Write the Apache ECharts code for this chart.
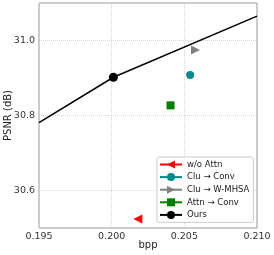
<!DOCTYPE html>
<html><head><meta charset="utf-8">
<script src="https://cdn.jsdelivr.net/npm/echarts@6/dist/echarts.min.js"></script>
<style>html,body{margin:0;padding:0;background:#fff}#c{width:274px;height:255px}</style>
</head><body><div id="c"></div>
<script>
const seriesNames = ['w/o Attn', 'Clu \u2192 Conv', 'Clu \u2192 W-MHSA', 'Attn \u2192 Conv', 'Ours'];
const woAttn = [[0.2018, 30.524]];
const cluConv = [[0.2054, 30.908]];
const cluWMHSA = [[0.20577, 30.975]];
const attnConv = [[0.20405, 30.827]];
const oursCurve = [[0.195, 30.781], [0.20012, 30.902], [0.210, 31.065]];
const oursMarkIndex = 1;
const xTicks = [0.195, 0.200, 0.205, 0.210];
const yTicks = [30.6, 30.8, 31.0];

const font = 'DejaVu Sans';
const chart = echarts.init(document.getElementById('c'), null, {renderer: 'canvas'});
chart.setOption({
  animation: false,
  backgroundColor: '#fff',
  grid: {left: 39, right: 17, top: 3, bottom: 27, containLabel: false, outerBoundsMode: 'none',
    show: true, borderColor: '#999', borderWidth: 1, backgroundColor: 'transparent'},
  xAxis: {
    type: 'value', min: 0.195, max: 0.210,
    name: 'bpp', nameLocation: 'middle', nameGap: 12, nameMoveOverlap: false,
    nameTextStyle: {fontFamily: font, fontSize: 10, color: '#222'},
    axisLine: {show: false}, axisTick: {show: false, customValues: xTicks},
    axisLabel: {customValues: xTicks, fontFamily: font, fontSize: 9.5, color: '#333', margin: 4,
      formatter: v => v.toFixed(3)},
    splitLine: {show: true, lineStyle: {color: '#ccc', type: [1, 1], width: 0.8}}
  },
  yAxis: {
    type: 'value', min: 30.5, max: 31.1,
    name: 'PSNR (dB)', nameLocation: 'middle', nameGap: 26, nameMoveOverlap: false,
    nameTextStyle: {fontFamily: font, fontSize: 10, color: '#222'},
    axisLine: {show: false}, axisTick: {show: false, customValues: yTicks},
    axisLabel: {customValues: yTicks, fontFamily: font, fontSize: 9.5, color: '#333', margin: 4,
      formatter: v => v.toFixed(1)},
    splitLine: {show: true, lineStyle: {color: '#ccc', type: [1, 1], width: 0.8}}
  },
  legend: {
    orient: 'vertical', left: 157, top: 157,
    data: seriesNames,
    itemWidth: 22, itemHeight: 10, itemGap: 2.6,
    padding: [2.5, 4, 2.5, 2],
    borderColor: '#ccc', borderWidth: 1, borderRadius: 2,
    backgroundColor: 'rgba(255,255,255,0.85)',
    textStyle: {fontFamily: font, fontSize: 8.5, color: '#222', lineHeight: 10}
  },
  series: [
    {name: seriesNames[0], type: 'line', data: woAttn, symbol: 'triangle', symbolRotate: 90, symbolSize: 9,
      itemStyle: {color: '#ff0000'}, lineStyle: {color: '#ff0000', width: 1.5}, z: 3},
    {name: seriesNames[1], type: 'line', data: cluConv, symbol: 'circle', symbolSize: 8,
      itemStyle: {color: '#008b8b'}, lineStyle: {color: '#008b8b', width: 1.5}, z: 3},
    {name: seriesNames[2], type: 'line', data: cluWMHSA, symbol: 'triangle', symbolRotate: -90, symbolSize: 9,
      itemStyle: {color: '#808080'}, lineStyle: {color: '#808080', width: 1.5}, z: 3},
    {name: seriesNames[3], type: 'line', data: attnConv, symbol: 'rect', symbolSize: 8,
      itemStyle: {color: '#008000'}, lineStyle: {color: '#008000', width: 1.5}, z: 3},
    {name: seriesNames[4], type: 'line', symbol: 'circle', symbolSize: 9, showAllSymbol: true,
      data: oursCurve.map((p, i) => i === oursMarkIndex ? {value: p} : {value: p, symbol: 'none'}),
      itemStyle: {color: '#000'}, lineStyle: {color: '#000', width: 1.5}, z: 4}
  ]
});
</script></body></html>
